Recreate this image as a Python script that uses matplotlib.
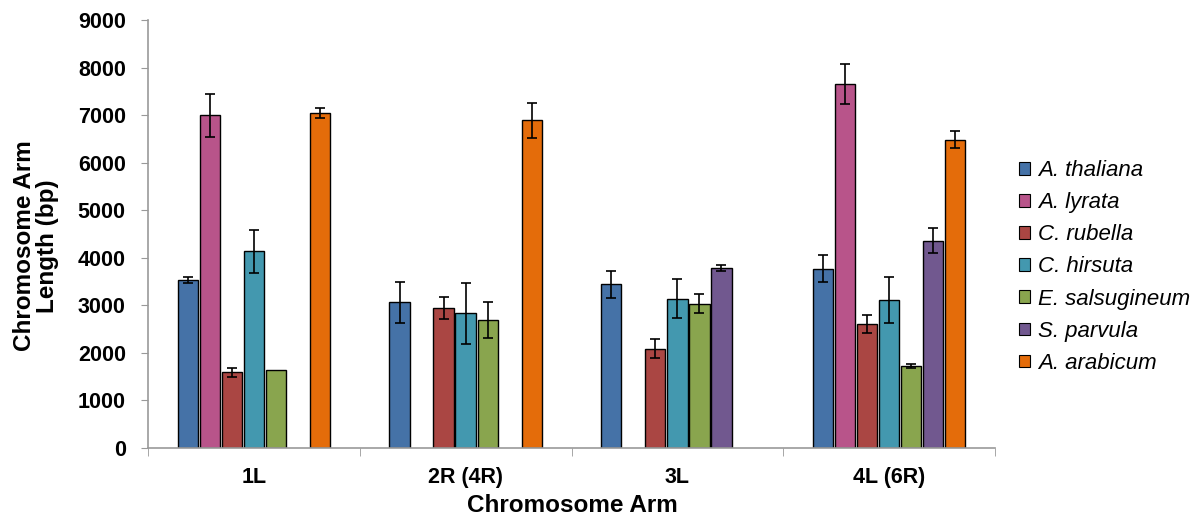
import numpy as np
import matplotlib
matplotlib.use("Agg")
import matplotlib.pyplot as plt
from matplotlib.patches import Patch

plt.rcParams['font.family'] = ['Liberation Sans', 'DejaVu Sans']

categories = ["1L", "2R (4R)", "3L", "4L (6R)"]
species = ["A. thaliana", "A. lyrata", "C. rubella", "C. hirsuta",
           "E. salsugineum", "S. parvula", "A. arabicum"]
colors = ["#4572A7", "#B8548A", "#AA4643", "#4398AF", "#89A54E", "#71588F", "#E46C0A"]

nan = np.nan
# values per species, across categories
a_thaliana = [3530, 3060, 3440, 3770]
a_lyrata = [7000, nan, nan, 7660]
c_rubella = [1590, 2940, 2080, 2600]
c_hirsuta = [4135, 2830, 3135, 3115]
e_salsugineum = [1635, 2690, 3035, 1720]
s_parvula = [nan, nan, 3775, 4360]
a_arabicum = [7055, 6895, nan, 6485]

a_thaliana_err = [60, 430, 290, 290]
a_lyrata_err = [460, nan, nan, 420]
c_rubella_err = [95, 230, 200, 185]
c_hirsuta_err = [450, 640, 415, 485]
e_salsugineum_err = [nan, 380, 205, 50]
s_parvula_err = [nan, nan, 63, 270]
a_arabicum_err = [105, 375, nan, 180]

values = [a_thaliana, a_lyrata, c_rubella, c_hirsuta, e_salsugineum, s_parvula, a_arabicum]
errors = [a_thaliana_err, a_lyrata_err, c_rubella_err, c_hirsuta_err,
          e_salsugineum_err, s_parvula_err, a_arabicum_err]

fig = plt.figure(figsize=(12.01, 5.16), dpi=100)
ax = fig.add_axes([148/1201, 1-447.5/516, (995-148)/1201, (447.5-20.5)/516])

x = np.arange(len(categories))
w = 0.104
for i, (vals, errs, col) in enumerate(zip(values, errors, colors)):
    pos = x + (i - 3) * w
    v = np.array(vals, dtype=float)
    e = np.array(errs, dtype=float)
    ax.bar(pos, v, width=w*0.92, color=col, edgecolor='black', linewidth=1.0, zorder=2)
    ax.errorbar(pos, v, yerr=e, fmt='none', ecolor='black', elinewidth=1.2,
                capsize=3.5, capthick=1.2, zorder=3)

ax.set_xlim(-0.5, 3.5)
ax.set_ylim(0, 9000)
ax.set_yticks(np.arange(0, 9001, 1000))
ax.set_xticks(x)
ax.set_xticklabels(categories, fontsize=15.5, fontweight='bold')
ax.set_xticks(np.arange(-0.5, 3.6, 1.0), minor=True)
ax.tick_params(axis='x', which='major', length=0, pad=14)
ax.tick_params(axis='x', which='minor', length=6, color='#999999', direction='out')
ax.tick_params(axis='y', length=5, color='#999999', direction='out', pad=11,
               labelsize=15.5)
for lab in ax.get_yticklabels():
    lab.set_fontweight('bold')

for s in ['top', 'right']:
    ax.spines[s].set_visible(False)
for s in ['left', 'bottom']:
    ax.spines[s].set_color('#999999')
    ax.spines[s].set_linewidth(1.2)

fig.text(36/1201, 1-246/516, "Chromosome Arm\nLength (bp)", rotation=90,
         ha='center', va='center', multialignment='center',
         fontsize=17.5, fontweight='bold', linespacing=1.0)
fig.text(572/1201, 1-505/516, "Chromosome Arm", ha='center', va='center',
         fontsize=17.5, fontweight='bold')

handles = [Patch(facecolor=c, edgecolor='black', linewidth=0.8) for c in colors]
fig.legend(handles, species, loc='center left', bbox_to_anchor=(1019/1201, 1-267/516),
           frameon=False, prop={'size': 16, 'style': 'italic'},
           handlelength=0.5, handleheight=0.5, handletextpad=0.35, labelspacing=0.5,
           borderaxespad=0, borderpad=0)

fig.savefig("out.png", dpi=100)
